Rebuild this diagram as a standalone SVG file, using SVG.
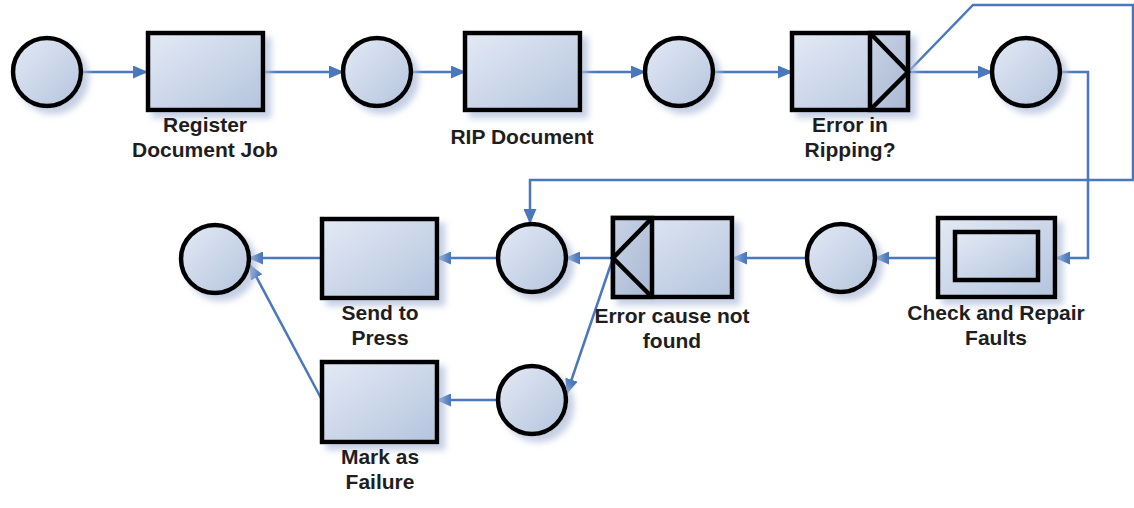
<svg xmlns="http://www.w3.org/2000/svg" width="1134" height="508" viewBox="0 0 1134 508">
  <defs>
    <linearGradient id="fillGrad" x1="0" y1="0" x2="1" y2="1">
      <stop offset="0" stop-color="#e4eaf5"/>
      <stop offset="1" stop-color="#b4c4de"/>
    </linearGradient>
    <linearGradient id="gateGrad" x1="0" y1="0" x2="1" y2="1">
      <stop offset="0" stop-color="#c8d3e6"/>
      <stop offset="1" stop-color="#a9b8d2"/>
    </linearGradient>
    <filter id="shadow" x="-20%" y="-20%" width="150%" height="150%">
      <feDropShadow dx="6" dy="6" stdDeviation="3" flood-color="#aebcd8" flood-opacity="0.7"/>
    </filter>
    <marker id="arrow" viewBox="0 0 15 13" refX="14" refY="6.5" markerWidth="15" markerHeight="13" markerUnits="userSpaceOnUse" orient="auto">
      <path d="M0,0 L15,6.5 L0,13 Z" fill="#4a78bd"/>
    </marker>
  </defs>
  <style>
    .shape { fill: url(#fillGrad); stroke: #000; stroke-width: 4.5; }
    .gate { fill: url(#gateGrad); stroke: #000; stroke-width: 4.5; }
    .edge { fill: none; stroke: #4a78bd; stroke-width: 2.5; }
    .label { font-family: "Liberation Sans", Arial, sans-serif; font-size: 21px; font-weight: bold; fill: #1e1e1e; text-anchor: middle; }
  </style>

  <rect width="1134" height="508" fill="#ffffff"/>

  <!-- connectors -->
  <g id="connectors">
    <path class="edge" d="M81,72 H147" marker-end="url(#arrow)"/>
    <path class="edge" d="M262,72 H343" marker-end="url(#arrow)"/>
    <path class="edge" d="M411,72 H465" marker-end="url(#arrow)"/>
    <path class="edge" d="M580,72 H645" marker-end="url(#arrow)"/>
    <path class="edge" d="M713,72 H792" marker-end="url(#arrow)"/>
    <path class="edge" d="M908,72 H992" marker-end="url(#arrow)"/>
    <path class="edge" d="M1060,72 H1088 V258 H1056" marker-end="url(#arrow)"/>
    <path class="edge" d="M938,258 H875" marker-end="url(#arrow)"/>
    <path class="edge" d="M807,258 H733" marker-end="url(#arrow)"/>
    <path class="edge" d="M613,258 H566" marker-end="url(#arrow)"/>
    <path class="edge" d="M613,258 L567,393" marker-end="url(#arrow)"/>
    <path class="edge" d="M498,258 H437" marker-end="url(#arrow)"/>
    <path class="edge" d="M498,400 H437" marker-end="url(#arrow)"/>
    <path class="edge" d="M322,258 H249" marker-end="url(#arrow)"/>
    <path class="edge" d="M322,400 L250,265" marker-end="url(#arrow)"/>
    <path class="edge" d="M908,72 L973,5 H1133 V180 H530 V223" marker-end="url(#arrow)"/>
  </g>

  <!-- top row -->
  <g id="start" filter="url(#shadow)">
    <circle class="shape" cx="47" cy="72" r="34"/>
  </g>
  <g id="register-document-job">
    <rect class="shape" x="148" y="33" width="115" height="77" filter="url(#shadow)"/>
    <text class="label" x="205" y="132">Register</text>
    <text class="label" x="205" y="157">Document Job</text>
  </g>
  <g id="event-registered" filter="url(#shadow)">
    <circle class="shape" cx="377" cy="72" r="34"/>
  </g>
  <g id="rip-document">
    <rect class="shape" x="465" y="33" width="115" height="77" filter="url(#shadow)"/>
    <text class="label" x="522" y="144">RIP Document</text>
  </g>
  <g id="event-ripped" filter="url(#shadow)">
    <circle class="shape" cx="679" cy="72" r="34"/>
  </g>
  <g id="error-in-ripping">
    <g filter="url(#shadow)">
      <rect class="shape" x="792" y="33" width="116" height="77"/>
      <rect class="gate" x="870" y="33" width="38" height="77"/>
      <path d="M870,33 L908,72 L870,110" fill="none" stroke="#000" stroke-width="4.5"/>
    </g>
    <text class="label" x="850" y="132">Error in</text>
    <text class="label" x="850" y="157">Ripping?</text>
  </g>
  <g id="event-ok" filter="url(#shadow)">
    <circle class="shape" cx="1026" cy="72" r="34"/>
  </g>

  <!-- bottom rows -->
  <g id="check-and-repair-faults">
    <g filter="url(#shadow)">
      <rect class="shape" x="938" y="218" width="117" height="79"/>
      <rect class="shape" x="955" y="232" width="83" height="48"/>
    </g>
    <text class="label" x="996" y="320">Check and Repair</text>
    <text class="label" x="996" y="345">Faults</text>
  </g>
  <g id="event-repaired" filter="url(#shadow)">
    <circle class="shape" cx="841" cy="258" r="34"/>
  </g>
  <g id="error-cause-not-found">
    <g filter="url(#shadow)">
      <rect class="shape" x="613" y="218" width="119" height="79"/>
      <rect class="gate" x="613" y="218" width="39" height="79"/>
      <path d="M652,218 L613,258 L652,297" fill="none" stroke="#000" stroke-width="4.5"/>
    </g>
    <text class="label" x="672" y="323">Error cause not</text>
    <text class="label" x="672" y="348">found</text>
  </g>
  <g id="event-ready" filter="url(#shadow)">
    <circle class="shape" cx="532" cy="258" r="34"/>
  </g>
  <g id="event-failed" filter="url(#shadow)">
    <circle class="shape" cx="532" cy="400" r="34"/>
  </g>
  <g id="send-to-press">
    <rect class="shape" x="322" y="219" width="115" height="79" filter="url(#shadow)"/>
    <text class="label" x="380" y="320">Send to</text>
    <text class="label" x="380" y="345">Press</text>
  </g>
  <g id="mark-as-failure">
    <rect class="shape" x="322" y="362" width="115" height="80" filter="url(#shadow)"/>
    <text class="label" x="380" y="464">Mark as</text>
    <text class="label" x="380" y="489">Failure</text>
  </g>
  <g id="end" filter="url(#shadow)">
    <circle class="shape" cx="215" cy="259" r="34"/>
  </g>
</svg>
